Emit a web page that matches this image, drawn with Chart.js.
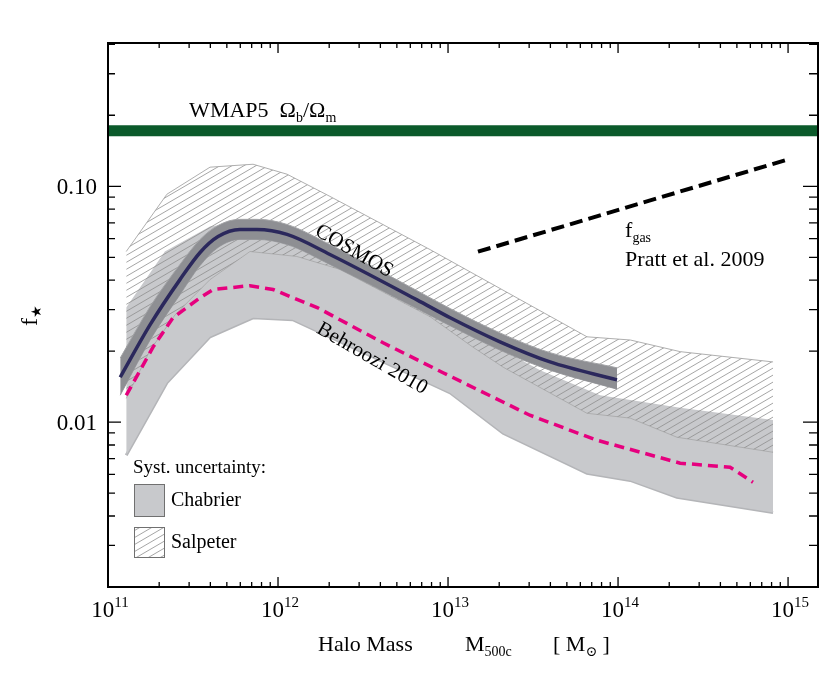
<!DOCTYPE html>
<html lang="en">
<head>
  <meta charset="UTF-8">
  <title>Stellar fraction vs halo mass</title>
  <style>
    body { margin: 0; background: #fff; }
    canvas { display: block; }
  </style>
</head>
<body>
  <canvas id="fstarChart" width="830" height="675"></canvas>

  <script src="https://cdn.jsdelivr.net/npm/chart.js"></script>
  <script>
    const SERIF = '"Liberation Serif", "DejaVu Serif", serif';

    // values: halo mass M500c [Msun] and f_star
    const wmapMass = [1e11, 1.5e15];
    const wmapF = [0.172, 0.172];

    const fgasMass = [1.5e13, 1e15];
    const fgasF = [0.0528, 0.130];

    const cosmosMass = [1.18e11, 1.77e11, 2.65e11, 3.48e11, 4.44e11, 5.97e11, 7.52e11, 1.13e12, 2.02e12, 6.57e12, 1.03e13, 2.02e13, 3.98e13, 9.86e13];
    const cosmosF  = [0.0155, 0.0259, 0.0402, 0.0524, 0.0612, 0.0656, 0.0656, 0.0625, 0.0514, 0.0330, 0.0277, 0.0219, 0.0180, 0.0151];
    const cosmosHi = [0.0187, 0.0309, 0.0466, 0.0595, 0.0682, 0.0724, 0.0724, 0.0689, 0.0566, 0.0361, 0.0303, 0.0239, 0.0197, 0.0170];
    const cosmosLo = [0.0130, 0.0223, 0.0347, 0.0461, 0.0550, 0.0595, 0.0595, 0.0566, 0.0466, 0.0303, 0.0256, 0.0202, 0.0166, 0.0138];

    const behrooziMass = [1.28e11, 1.84e11, 2.41e11, 3.48e11, 4.15e11, 6.84e11, 9.35e11, 1.70e12, 4.15e12, 9.35e12, 3.03e13, 7.52e13, 2.32e14, 4.56e14, 6.22e14];
    const behrooziF = [0.0130, 0.0208, 0.0277, 0.0337, 0.0365, 0.0379, 0.0365, 0.0306, 0.0217, 0.0162, 0.0107, 0.00838, 0.00670, 0.00644, 0.00556];

    // Salpeter (hatched) systematic band
    const salpHiMass = [1.28e11, 2.22e11, 3.98e11, 7.13e11, 1.13e12, 2.02e12, 7.84e12, 6.57e13, 1.18e14, 2.32e14, 8.16e14];
    const salpHiF = [0.0529, 0.0925, 0.1205, 0.124, 0.1125, 0.0906, 0.0539, 0.0230, 0.0223, 0.0199, 0.0180];
    const salpLoMass = [1.28e11, 1.77e11, 2.48e11, 3.98e11, 6.84e11, 1.29e12, 2.32e12, 7.84e12, 1.40e13, 2.11e13, 6.57e13, 1.18e14, 2.22e14, 8.16e14];
    const salpLoF = [0.0126, 0.0202, 0.0285, 0.0402, 0.0529, 0.0504, 0.0444, 0.0280, 0.0208, 0.0171, 0.0109, 0.0104, 0.00863, 0.00745];

    // Chabrier (grey) systematic band
    const chabHiMass = [1.28e11, 2.16e11, 3.98e11, 6.4e11, 1.18e12, 2.32e12, 1.03e13, 3.48e13, 7.84e13, 2.32e14, 8.16e14];
    const chabHiF = [0.0306, 0.0529, 0.0676, 0.0710, 0.0643, 0.0499, 0.0267, 0.0166, 0.0130, 0.0115, 0.0102];
    const chabLoMass = [1.28e11, 2.22e11, 3.98e11, 7.13e11, 1.22e12, 1.03e13, 2.11e13, 6.57e13, 1.18e14, 2.22e14, 8.16e14];
    const chabLoF = [0.00724, 0.0147, 0.0230, 0.0277, 0.0272, 0.0133, 0.00898, 0.00607, 0.00566, 0.00480, 0.00414];

    const xDecades = [1e11, 1e12, 1e13, 1e14, 1e15];
    const xTickExp = ['11', '12', '13', '14', '15'];
    const yMajor = [0.01, 0.1];
    const yTickLabels = ['0.01', '0.10'];

    const pts = (xs, ys) => xs.map((x, i) => ({ x: x, y: ys[i] }));

    function hatchPattern(ctx) {
      const tile = document.createElement('canvas');
      tile.width = 24; tile.height = 14;
      const g = tile.getContext('2d');
      g.strokeStyle = '#8e8e8e';
      g.lineWidth = 0.8;
      for (let k = -2; k <= 2; k++) {
        g.beginPath();
        g.moveTo(0, 14 + 7 * k);
        g.lineTo(24, 7 * k);
        g.stroke();
      }
      return ctx.createPattern(tile, 'repeat');
    }

    // draw a row of text pieces (sub/superscripts), returns end x
    function drawRuns(ctx, runs, x, y, align) {
      let total = 0;
      runs.forEach(r => { ctx.font = r.size + 'px ' + SERIF; r.w = ctx.measureText(r.text).width; total += r.w; });
      let cx = align === 'center' ? x - total / 2 : (align === 'right' ? x - total : x);
      ctx.textAlign = 'left';
      ctx.textBaseline = 'alphabetic';
      runs.forEach(r => {
        ctx.font = r.size + 'px ' + SERIF;
        ctx.fillText(r.text, cx, y + (r.dy || 0));
        cx += r.w;
      });
      return cx;
    }

    const frame = {
      id: 'frame',
      afterDraw(chart) {
        const ctx = chart.ctx;
        const a = chart.chartArea;
        const xs = chart.scales.x, ys = chart.scales.y;
        ctx.save();
        ctx.strokeStyle = '#000';
        ctx.fillStyle = '#000';

        // box
        ctx.lineWidth = 2;
        ctx.strokeRect(a.left, a.top, a.right - a.left, a.bottom - a.top);

        // ticks, pointing inwards
        ctx.lineWidth = 1.3;
        ctx.beginPath();
        xDecades.forEach(d => {
          for (let m = 1; m <= 9; m++) {
            const v = d * m;
            if (v < xs.min || v > xs.max) continue;
            const p = xs.getPixelForValue(v);
            const len = m === 1 ? 10 : 5;
            ctx.moveTo(p, a.bottom); ctx.lineTo(p, a.bottom - len);
            ctx.moveTo(p, a.top); ctx.lineTo(p, a.top + len);
          }
        });
        [0.001, 0.01, 0.1].forEach(d => {
          for (let m = 1; m <= 9; m++) {
            const v = d * m;
            if (v < ys.min || v > ys.max) continue;
            const p = ys.getPixelForValue(v);
            const major = m === 1;
            ctx.moveTo(a.left, p); ctx.lineTo(a.left + (major ? 13 : 7), p);
            ctx.moveTo(a.right, p); ctx.lineTo(a.right - (major ? 15 : 9), p);
          }
        });
        ctx.stroke();

        // tick labels
        xDecades.forEach((d, i) => {
          drawRuns(ctx, [{ text: '10', size: 23 }, { text: xTickExp[i], size: 15, dy: -10 }],
            xs.getPixelForValue(d) + 2, 617, 'center');
        });
        yMajor.forEach((v, i) => {
          drawRuns(ctx, [{ text: yTickLabels[i], size: 23 }], 97, ys.getPixelForValue(v) + 8, 'right');
        });

        // axis titles
        drawRuns(ctx, [{ text: 'Halo Mass', size: 22 }], 318, 651, 'left');
        drawRuns(ctx, [{ text: 'M', size: 22 }, { text: '500c', size: 14, dy: 5 }], 465, 651, 'left');
        drawRuns(ctx, [{ text: '[ M', size: 22 }, { text: '\u2299', size: 14, dy: 5 }, { text: ' ]', size: 22 }], 553, 651, 'left');

        ctx.save();
        ctx.translate(37, 326);
        ctx.rotate(-Math.PI / 2);
        drawRuns(ctx, [{ text: 'f', size: 24 }, { text: '\u2605', size: 14, dy: 4 }], 0, 0, 'left');
        ctx.restore();

        // annotations anchored in data space
        drawRuns(ctx, [{ text: 'WMAP5  \u03a9', size: 22 }, { text: 'b', size: 14, dy: 5 },
          { text: '/\u03a9', size: 22 }, { text: 'm', size: 14, dy: 5 }],
          xs.getPixelForValue(3.0e11), ys.getPixelForValue(0.197), 'left');

        const rotText = (txt, mx, fy, ang) => {
          ctx.save();
          ctx.translate(xs.getPixelForValue(mx), ys.getPixelForValue(fy));
          ctx.rotate(ang * Math.PI / 180);
          ctx.font = '21px ' + SERIF;
          ctx.textAlign = 'center';
          ctx.textBaseline = 'middle';
          ctx.fillText(txt, 0, 0);
          ctx.restore();
        };
        rotText('COSMOS', 2.8e12, 0.053, 30);
        rotText('Behroozi 2010', 3.57e12, 0.0186, 30);

        drawRuns(ctx, [{ text: 'f', size: 22 }, { text: 'gas', size: 14, dy: 5 }],
          xs.getPixelForValue(1.1e14), ys.getPixelForValue(0.0612), 'left');
        drawRuns(ctx, [{ text: 'Pratt et al. 2009', size: 22 }],
          xs.getPixelForValue(1.1e14), ys.getPixelForValue(0.0457), 'left');

        // legend for the systematic bands
        drawRuns(ctx, [{ text: 'Syst. uncertainty:', size: 19 }], 133, 473, 'left');
        ctx.lineWidth = 1;
        ctx.strokeStyle = '#707070';
        ctx.fillStyle = '#c8c9cc';
        ctx.fillRect(134, 484, 30, 32);
        ctx.strokeRect(134.5, 484.5, 30, 32);
        ctx.fillStyle = hatch;
        ctx.fillRect(134, 527, 30, 30);
        ctx.strokeRect(134.5, 527.5, 30, 30);
        ctx.fillStyle = '#000';
        drawRuns(ctx, [{ text: 'Chabrier', size: 20 }], 171, 506, 'left');
        drawRuns(ctx, [{ text: 'Salpeter', size: 20 }], 171, 548, 'left');

        ctx.restore();
      }
    };

    const ctx = document.getElementById('fstarChart').getContext('2d');
    const hatch = hatchPattern(ctx);

    const lineDefaults = { showLine: true, pointRadius: 0, tension: 0 };

    new Chart(ctx, {
      type: 'scatter',
      data: {
        datasets: [
          Object.assign({}, lineDefaults, {
            label: 'WMAP5', data: pts(wmapMass, wmapF),
            borderColor: '#0b5a2b', borderWidth: 11, fill: false, order: 0
          }),
          Object.assign({}, lineDefaults, {
            label: 'fgas Pratt 2009', data: pts(fgasMass, fgasF),
            borderColor: '#000', borderWidth: 4, borderDash: [13, 6.2], fill: false, order: 1
          }),
          Object.assign({}, lineDefaults, {
            label: 'Behroozi 2010', data: pts(behrooziMass, behrooziF),
            borderColor: '#e6007e', borderWidth: 3.5, borderDash: [10, 6], fill: false, order: 2
          }),
          Object.assign({}, lineDefaults, {
            label: 'COSMOS', data: pts(cosmosMass, cosmosF),
            borderColor: '#2b285c', borderWidth: 3.5, cubicInterpolationMode: 'monotone', fill: false, order: 3
          }),
          Object.assign({}, lineDefaults, {
            label: 'COSMOS hi', data: pts(cosmosMass, cosmosHi),
            borderColor: '#a2a3a6', borderWidth: 1, backgroundColor: '#8e8f93',
            cubicInterpolationMode: 'monotone', fill: '+1', order: 4
          }),
          Object.assign({}, lineDefaults, {
            label: 'COSMOS lo', data: pts(cosmosMass, cosmosLo),
            borderColor: '#a2a3a6', borderWidth: 1, cubicInterpolationMode: 'monotone', fill: false, order: 4
          }),
          Object.assign({}, lineDefaults, {
            label: 'Salpeter hi', data: pts(salpHiMass, salpHiF),
            borderColor: '#9a9a9a', borderWidth: 0.8, backgroundColor: hatch, fill: '+1', order: 6
          }),
          Object.assign({}, lineDefaults, {
            label: 'Salpeter lo', data: pts(salpLoMass, salpLoF),
            borderColor: '#9a9a9a', borderWidth: 0.6, fill: false, order: 6
          }),
          Object.assign({}, lineDefaults, {
            label: 'Chabrier hi', data: pts(chabHiMass, chabHiF),
            borderColor: 'rgba(0,0,0,0)', borderWidth: 0, backgroundColor: '#c8c9cc', fill: '+1', order: 8
          }),
          Object.assign({}, lineDefaults, {
            label: 'Chabrier lo', data: pts(chabLoMass, chabLoF),
            borderColor: '#b4b5b8', borderWidth: 3, fill: false, order: 8
          })
        ]
      },
      options: {
        responsive: false,
        animation: false,
        layout: { padding: { left: 108, right: 12, top: 43, bottom: 88 } },
        plugins: { legend: { display: false }, tooltip: { enabled: false } },
        scales: {
          x: { type: 'logarithmic', min: 1e11, max: 1.5e15, display: false },
          y: { type: 'logarithmic', min: 0.002, max: 0.405, display: false }
        }
      },
      plugins: [frame]
    });
  </script>
</body>
</html>
